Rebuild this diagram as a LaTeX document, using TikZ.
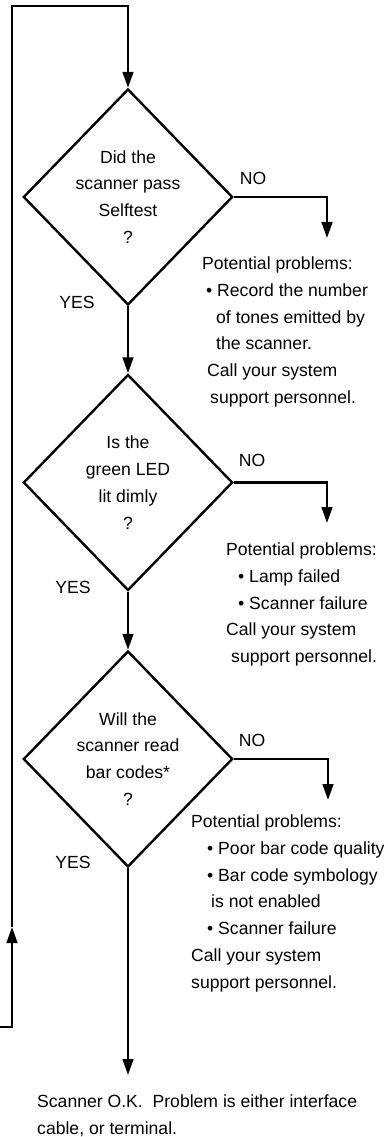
\documentclass[tikz,border=0pt]{standalone}
\usepackage{fontspec}
\setmainfont{Liberation Sans}
\usetikzlibrary{shapes.geometric,arrows.meta}
\begin{document}
\begin{tikzpicture}[x=0.75pt,y=-0.75pt,
  line width=1.8pt,
  dec/.style={diamond,draw,inner sep=0pt,minimum width=157pt,minimum height=162pt,align=center,font=\fontsize{13.2}{20.1}\selectfont},
  lbl/.style={inner sep=0pt,font=\fontsize{13.2}{16}\selectfont},
  txt/.style={inner sep=0pt,anchor=north west,align=left,font=\fontsize{13.2}{20.1}\selectfont},
  arr/.style={-{Triangle[length=12pt,width=8pt]}}]
\useasboundingbox (0,0) rectangle (387,1137);

\node[dec] (d1) at (128,197) {Did the\\scanner pass\\Selftest\\?};
\node[dec] (d2) at (128,482.5) {Is the\\green LED\\lit dimly\\?};
\node[dec] (d3) at (128,759) {Will the\\scanner read\\bar codes*\\?};

\node[lbl] (no1) at (253,178) {NO};
\node[lbl] (no2) at (252,460) {NO};
\node[lbl] (no3) at (252,740) {NO};
\node[lbl] (yes1) at (77,302) {YES};
\node[lbl] (yes2) at (73,587) {YES};
\node[lbl] (yes3) at (73,862) {YES};

\node[txt] (p1) at (201,255.5) {Potential problems:\\
\hspace*{3pt}• Record the number\\
\hspace*{10.5pt}of tones emitted by\\
\hspace*{10.5pt}the scanner.\\
\hspace*{3.75pt}Call your system\\
\hspace*{6pt}support personnel.};

\node[txt] (p2) at (225,541.5) {Potential problems:\\
\hspace*{9pt}• Lamp failed\\
\hspace*{9pt}• Scanner failure\\
Call your system\\
\hspace*{3.75pt}support personnel.};

\node[txt] (p3) at (190,813.5) {Potential problems:\\
\hspace*{12pt}• Poor bar code quality\\
\hspace*{12pt}• Bar code symbology\\
\hspace*{15pt}is not enabled\\
\hspace*{12pt}• Scanner failure\\
Call your system\\
support personnel.};

\node[txt] (ok) at (36,1093.5) {Scanner O.K.\ \ Problem is either interface\\cable, or terminal.};

\coordinate (lb0) at (0,1027);
\coordinate (lb1) at (12,1027);
\coordinate (lup) at (12,927);
\coordinate (ltop) at (12,6);
\draw[arr] (lb0) -- (lb1) -- (lup);
\draw[arr] (lup) -- (ltop) -| (d1.north);

\draw[arr] (d1.south) -- (d2.north);
\draw[arr] (d2.south) -- (d3.north);
\coordinate (fin) at (128,1075);
\draw[arr] (d3.south) -- (fin);

\coordinate (n1) at (327,238);
\coordinate (n2) at (327,523);
\coordinate (n3) at (328,800);
\draw[arr] (d1.east) -| (n1);
\draw[arr] (d2.east) -| (n2);
\draw[arr] (d3.east) -| (n3);
\end{tikzpicture}
\end{document}
